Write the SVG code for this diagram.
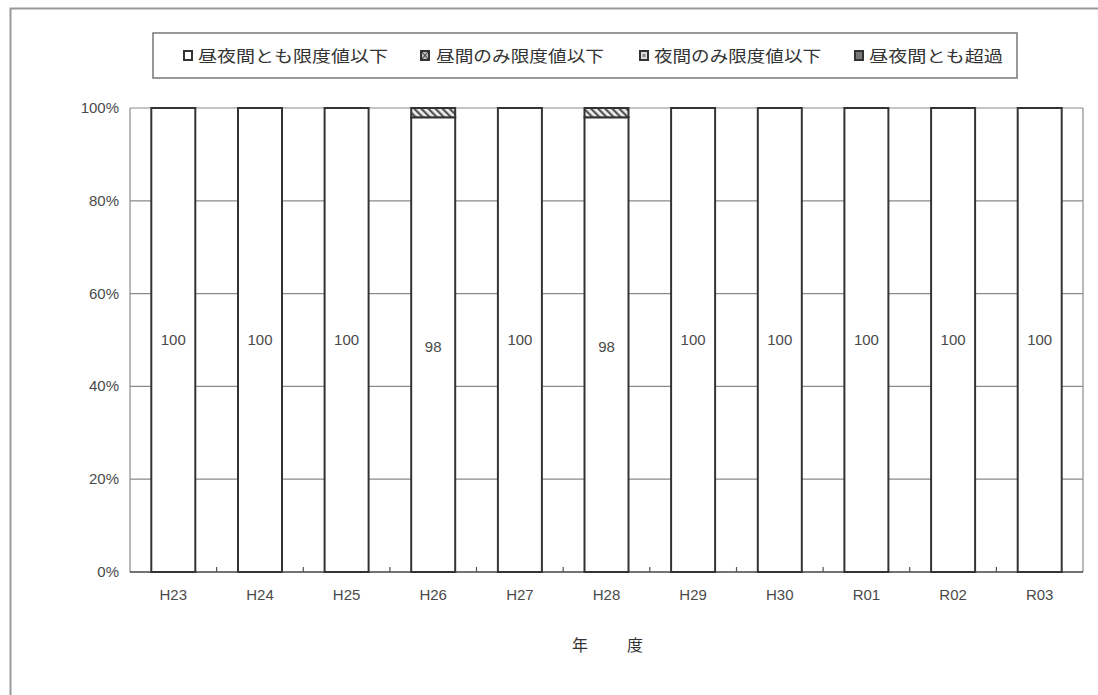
<svg xmlns="http://www.w3.org/2000/svg" width="1098" height="695" viewBox="0 0 1098 695">
<style>
.num{font-family:"Liberation Sans",Arial,sans-serif;font-size:15px;fill:#4a4a4a}
.jp{font-family:"Noto Sans CJK JP","Noto Sans CJK SC",sans-serif;font-size:16px;fill:#333}
.grid{stroke:#8a8a8a;stroke-width:1.2;fill:none}
.bar{fill:#fff;stroke:#333;stroke-width:2}
.hatch{fill:url(#hatch);stroke:#333;stroke-width:2}
.tick{stroke:#555;stroke-width:1.2}
</style>
<defs>
<pattern id="hatch" patternUnits="userSpaceOnUse" width="5" height="5" patternTransform="rotate(-45)">
<rect width="5" height="5" fill="#eee"/>
<rect width="2.2" height="5" fill="#555"/>
</pattern>
</defs>
<rect width="1098" height="695" fill="#fff"/>
<path d="M10.5 695V8.5H1098" stroke="#999" stroke-width="2" fill="none"/>

<g id="legend">
<rect x="153" y="33" width="864" height="45" fill="#fff" stroke="#777" stroke-width="1.5"/>
<rect x="184" y="51" width="8" height="9" fill="#fff" stroke="#333" stroke-width="2"/>
<text class="jp" x="198" y="61.5" textLength="190" lengthAdjust="spacingAndGlyphs">昼夜間とも限度値以下</text>
<rect x="421" y="51" width="8" height="9" fill="#bbb" stroke="#333" stroke-width="2"/>
<path d="M422 52l6 7M428 52l-6 7" stroke="#333" stroke-width="1"/>
<text class="jp" x="436" y="61.5" textLength="168" lengthAdjust="spacingAndGlyphs">昼間のみ限度値以下</text>
<rect x="640" y="51" width="8" height="9" fill="#ddd" stroke="#333" stroke-width="2"/>
<rect x="642.5" y="54" width="3" height="3" fill="#888"/>
<text class="jp" x="654" y="61.5" textLength="167" lengthAdjust="spacingAndGlyphs">夜間のみ限度値以下</text>
<rect x="855" y="51" width="8" height="9" fill="#777" stroke="#333" stroke-width="2"/>
<text class="jp" x="869" y="61.5" textLength="134" lengthAdjust="spacingAndGlyphs">昼夜間とも超過</text>
</g>

<g id="grid">
<line class="grid" x1="130" y1="108" x2="1083" y2="108"/>
<line class="grid" x1="130" y1="200.8" x2="1083" y2="200.8"/>
<line class="grid" x1="130" y1="293.6" x2="1083" y2="293.6"/>
<line class="grid" x1="130" y1="386.4" x2="1083" y2="386.4"/>
<line class="grid" x1="130" y1="479.2" x2="1083" y2="479.2"/>
<line class="grid" x1="130" y1="108" x2="130" y2="572"/>
<line class="grid" x1="1083" y1="108" x2="1083" y2="572"/>
<line x1="130" y1="572" x2="1083" y2="572" stroke="#444" stroke-width="1.5"/>
</g>

<g id="yaxis" text-anchor="end">
<text class="num" x="119" y="113">100%</text>
<text class="num" x="119" y="206">80%</text>
<text class="num" x="119" y="299">60%</text>
<text class="num" x="119" y="391">40%</text>
<text class="num" x="119" y="484">20%</text>
<text class="num" x="119" y="577">0%</text>
</g>

<g id="ticks">
<line class="tick" x1="216.6" y1="572" x2="216.6" y2="567"/>
<line class="tick" x1="303.3" y1="572" x2="303.3" y2="567"/>
<line class="tick" x1="389.9" y1="572" x2="389.9" y2="567"/>
<line class="tick" x1="476.5" y1="572" x2="476.5" y2="567"/>
<line class="tick" x1="563.2" y1="572" x2="563.2" y2="567"/>
<line class="tick" x1="649.8" y1="572" x2="649.8" y2="567"/>
<line class="tick" x1="736.5" y1="572" x2="736.5" y2="567"/>
<line class="tick" x1="823.1" y1="572" x2="823.1" y2="567"/>
<line class="tick" x1="909.7" y1="572" x2="909.7" y2="567"/>
<line class="tick" x1="996.4" y1="572" x2="996.4" y2="567"/>
</g>

<g id="bars">
<g id="bar-H23"><rect class="bar" x="151.3" y="108" width="44" height="464"/><text class="num" x="173.3" y="345" text-anchor="middle">100</text></g>
<g id="bar-H24"><rect class="bar" x="238" y="108" width="44" height="464"/><text class="num" x="260" y="345" text-anchor="middle">100</text></g>
<g id="bar-H25"><rect class="bar" x="324.6" y="108" width="44" height="464"/><text class="num" x="346.6" y="345" text-anchor="middle">100</text></g>
<g id="bar-H26"><rect class="bar" x="411.2" y="117.3" width="44" height="454.7"/><rect class="hatch" x="411.2" y="108" width="44" height="9.3"/><text class="num" x="433.2" y="352" text-anchor="middle">98</text></g>
<g id="bar-H27"><rect class="bar" x="497.9" y="108" width="44" height="464"/><text class="num" x="519.9" y="345" text-anchor="middle">100</text></g>
<g id="bar-H28"><rect class="bar" x="584.5" y="117.3" width="44" height="454.7"/><rect class="hatch" x="584.5" y="108" width="44" height="9.3"/><text class="num" x="606.5" y="352" text-anchor="middle">98</text></g>
<g id="bar-H29"><rect class="bar" x="671.1" y="108" width="44" height="464"/><text class="num" x="693.1" y="345" text-anchor="middle">100</text></g>
<g id="bar-H30"><rect class="bar" x="757.8" y="108" width="44" height="464"/><text class="num" x="779.8" y="345" text-anchor="middle">100</text></g>
<g id="bar-R01"><rect class="bar" x="844.4" y="108" width="44" height="464"/><text class="num" x="866.4" y="345" text-anchor="middle">100</text></g>
<g id="bar-R02"><rect class="bar" x="931.1" y="108" width="44" height="464"/><text class="num" x="953.1" y="345" text-anchor="middle">100</text></g>
<g id="bar-R03"><rect class="bar" x="1017.7" y="108" width="44" height="464"/><text class="num" x="1039.7" y="345" text-anchor="middle">100</text></g>
</g>

<g id="xaxis" text-anchor="middle">
<text class="num" x="173.3" y="600">H23</text>
<text class="num" x="260" y="600">H24</text>
<text class="num" x="346.6" y="600">H25</text>
<text class="num" x="433.2" y="600">H26</text>
<text class="num" x="519.9" y="600">H27</text>
<text class="num" x="606.5" y="600">H28</text>
<text class="num" x="693.1" y="600">H29</text>
<text class="num" x="779.8" y="600">H30</text>
<text class="num" x="866.4" y="600">R01</text>
<text class="num" x="953.1" y="600">R02</text>
<text class="num" x="1039.7" y="600">R03</text>
</g>

<g id="xtitle">
<text class="jp" x="580" y="651" text-anchor="middle">年</text>
<text class="jp" x="635" y="651" text-anchor="middle">度</text>
</g>
</svg>
